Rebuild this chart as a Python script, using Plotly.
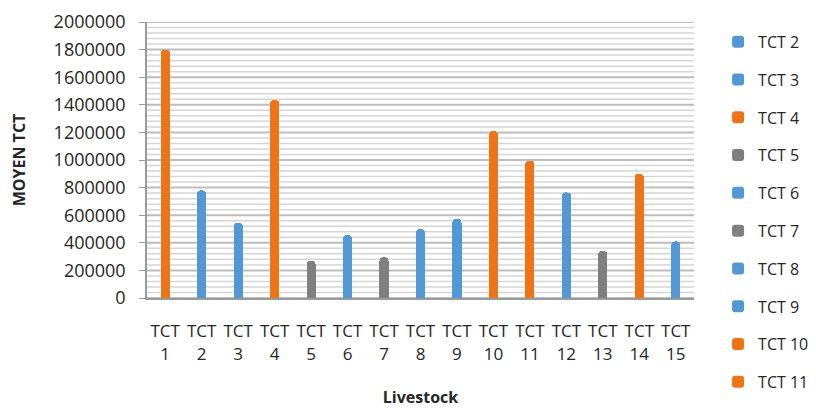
import plotly.graph_objects as go

# Mean TCT per livestock group
categories = ["TCT 1", "TCT 2", "TCT 3", "TCT 4", "TCT 5", "TCT 6", "TCT 7", "TCT 8",
              "TCT 9", "TCT 10", "TCT 11", "TCT 12", "TCT 13", "TCT 14", "TCT 15"]
tick_labels = ["TCT<br>1", "TCT<br>2", "TCT<br>3", "TCT<br>4", "TCT<br>5", "TCT<br>6",
               "TCT<br>7", "TCT<br>8", "TCT<br>9", "TCT<br>10", "TCT<br>11", "TCT<br>12",
               "TCT<br>13", "TCT<br>14", "TCT<br>15"]
values = [1800000, 780000, 545000, 1435000, 268000, 455000, 295000, 500000,
          575000, 1210000, 995000, 765000, 340000, 900000, 410000]
groups = ["orange", "blue", "blue", "orange", "gray", "blue", "gray", "blue",
          "blue", "orange", "orange", "blue", "gray", "orange", "blue"]
legend_items = ["TCT 2", "TCT 3", "TCT 4", "TCT 5", "TCT 6",
                "TCT 7", "TCT 8", "TCT 9", "TCT 10", "TCT 11"]

Y_MAX = 2000000
MAJOR_STEP = 200000
MINOR_STEP = 40000

palette = {"orange": "#EE7418", "blue": "#5397D5", "gray": "#7F7F7F"}

FONT = "Open Sans"
TEXT = "#262626"

fig = go.Figure()
for cat, val, grp in zip(categories, values, groups):
    fig.add_trace(go.Bar(
        x=[cat], y=[val], name=cat,
        legendgroup=cat,
        showlegend=cat in legend_items,
        width=0.25,
        marker=dict(color=palette[grp], opacity=1, cornerradius=5,
                    line=dict(width=0)),
    ))

# Striped back-wall grid: light minor lines with darker major lines, kept behind the bars
for level in range(0, Y_MAX + 1, MINOR_STEP):
    major = level % MAJOR_STEP == 0
    fig.add_shape(
        type="line", layer="below",
        xref="paper", x0=0, x1=1, yref="y", y0=level, y1=level,
        line=dict(color="#bdbdbd" if major else "#d6d6d6", width=2 if major else 1.5),
    )

fig.update_layout(
    width=816, height=408,
    margin=dict(l=147, r=122, t=22, b=110, autoexpand=False),
    paper_bgcolor="white", plot_bgcolor="white",
    barmode="stack",
    font=dict(family=FONT, color=TEXT, size=16),
    showlegend=True,
    legend=dict(
        x=1.044, xanchor="left", y=0.99, yanchor="top",
        font=dict(family=FONT, size=16, color=TEXT),
        tracegroupgap=14, itemwidth=30,
        maxheight=400,
        bgcolor="rgba(0,0,0,0)",
    ),
)

fig.update_xaxes(
    type="category", automargin=False,
    categoryorder="array", categoryarray=categories,
    tickvals=categories, ticktext=tick_labels,
    range=[-0.5, 14.5],
    showline=True, linecolor="#9a9a9a", linewidth=2,
    showgrid=False, ticks="",
    ticklabelstandoff=17,
    tickfont=dict(family=FONT, size=17, color=TEXT),
    title=dict(text="<b>Livestock</b>", standoff=36,
               font=dict(family=FONT, size=16, color=TEXT)),
)

fig.update_yaxes(
    automargin=False,
    range=[0, Y_MAX], dtick=MAJOR_STEP, tickformat="d",
    showline=True, linecolor="#9a9a9a", linewidth=1.5,
    ticks="outside", ticklen=6, tickcolor="#9a9a9a",
    ticklabelstandoff=10,
    showgrid=False, zeroline=False,
    tickfont=dict(family=FONT, size=18, color=TEXT),
    title=dict(text="<b>MOYEN TCT</b>", standoff=24,
               font=dict(family=FONT, size=16, color=TEXT)),
)

fig.write_html("out.html")
